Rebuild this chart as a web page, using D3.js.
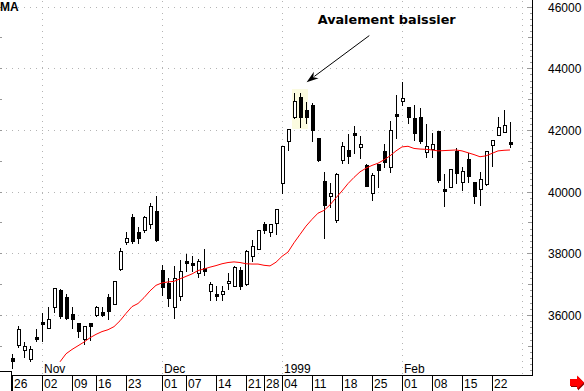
<!DOCTYPE html>
<html>
<head>
<meta charset="utf-8">
<script src="https://cdn.jsdelivr.net/npm/d3@7"></script>
<style>
html, body { margin: 0; padding: 0; background: #fff; overflow: hidden; }
svg { display: block; }
text { font-family: "Liberation Sans", Arial, sans-serif; font-size: 12px; fill: #000; }
</style>
</head>
<body>
<svg id="chart" width="584" height="391"></svg>
<script>
// daily candles, one per trading day (index 0 = 26 Oct 1998)
const open = [34610,35020,34860,34580,35300,35770,35570,36270,36810,36590,
  36020,35730,35210,35730,36000,36080,36590,36370,37490,38350,
  39170,38700,38740,38940,39360,37460,37050,36250,36630,37750,
  37690,37350,37520,36790,36670,36690,37020,36950,37460,37010,
  37920,38150,38950,38680,38990,40290,41650,42430,43080,42650,
  42810,41730,40350,39860,39080,41010,41350,41910,41460,40870,
  39970,40900,41330,40810,42520,42950,42740,42380,42410,41280,
  41390,41950,40100,40160,41320,40300,41060,40300,40080,40240,
  41510,41840,41930,41620];
const high = [34740,35650,35120,35000,35540,36060,36250,36880,36830,36680,
  36270,35750,35650,35740,36290,36270,36680,37100,38160,38700,
  39280,38850,39210,39620,39870,37620,37190,37590,37790,37980,
  37920,37820,38140,37080,36940,36940,37350,37590,37550,38090,
  38430,38770,39030,38960,39440,41490,42030,43210,43190,42890,
  42870,41740,40620,40270,40600,41620,41860,42130,41810,40880,
  40600,40910,41550,42290,43140,43570,42750,42810,42700,42200,
  41890,41970,40570,40740,41430,40810,41250,40310,40620,41330,
  41680,42430,42650,42260];
const low = [34270,34970,34650,34520,35170,35170,35570,36080,35900,35880,
  35590,35270,35060,35190,35970,35950,35860,36340,37460,38290,
  38340,38330,38690,38810,38410,36650,36290,35890,36490,37440,
  37430,37240,37300,36470,36470,36470,36830,36940,36830,36970,
  37760,38140,38650,38570,38610,39950,41350,42380,42110,42220,
  41650,41000,38490,39490,39030,40940,40920,41250,41080,40170,
  39730,40160,40810,40620,41730,42810,42240,41680,41590,41120,
  41120,40320,39540,40150,40290,40060,40320,39620,39570,40220,
  40840,41830,41920,41460];
const close = [34510,35540,35000,34890,35230,35710,35860,36870,35950,35910,
  35880,35470,35650,35650,36270,36010,36140,37090,38080,38490,
  38410,38510,39170,39530,38430,36900,36540,37190,37430,37720,
  37660,37750,37440,37000,36640,36780,37100,37560,36950,38080,
  38240,38760,38740,38950,39430,41480,42020,42940,42430,42430,
  42000,41010,39570,39970,40560,41490,41170,41860,41550,40180,
  40540,40700,40970,42000,42480,43030,42430,41890,41650,41480,
  41550,40380,40050,40730,40600,40670,40520,39860,40400,41320,
  41670,42090,42160,41550];

// moving average (red), starts at candle 8
const maStart = 8;
const ma = [34480,34740,34880,35000,35120,35260,35370,35460,35520,35620,
  35810,36050,36270,36370,36560,36780,36960,37040,37070,37090,
  37170,37250,37330,37440,37490,37550,37600,37660,37700,37720,
  37700,37660,37650,37650,37610,37590,37710,37900,38040,38340,
  38610,38880,39100,39300,39390,39570,39800,40020,40260,40460,
  40640,40760,40850,40920,41030,41160,41320,41450,41470,41400,
  41380,41370,41350,41320,41330,41340,41350,41320,41260,41200,
  41130,41160,41240,41320,41340,41350];

const weekIdx = [0,5,10,14,19,25,29,34,39,42,45,50,55,60,65,70,75,80];
const weekLabels = ["26","02","09","16","23","01","07","14","21","28","04","11","18","25","01","08","15","22"];
const monthIdx = [5,25,45,65,85];
const monthLabels = ["Nov","Dec","1999","Feb",""];
const priceTicks = [36000,38000,40000,42000,44000,46000];

const noteText = "Avalement baissier";
const noteAt = [50.95, 45440];          // [day index, price] of text start
const arrowFrom = [59.55, 45060];
const arrowTo = [49.1, 43550];
const boxDays = [46.7, 49.4];            // highlighted pattern
const boxPrices = [42020, 43320];

const plotRight = 532, plotBottom = 375;

const svg = d3.select("#chart");

const x = d3.scaleLinear().domain([0, 83]).range([12, 510]);
const y = d3.scaleLinear().domain([34000, 46000]).range([376.6, 6.6]);
const px = i => Math.round(x(i));
const py = v => Math.round(y(v));

const crisp = svg.append("g").attr("shape-rendering", "crispEdges");

// highlight box behind the engulfing pattern
crisp.append("rect")
  .attr("x", x(boxDays[0]))
  .attr("y", y(boxPrices[1]))
  .attr("width", x(boxDays[1]) - x(boxDays[0]))
  .attr("height", y(boxPrices[0]) - y(boxPrices[1]))
  .attr("fill", "#fbfbe0");

// dotted grid
crisp.selectAll(".hgrid")
  .data(priceTicks)
  .enter()
  .append("line")
  .attr("class", "hgrid")
  .attr("x1", 0).attr("x2", plotRight)
  .attr("y1", d => py(d) + 0.5).attr("y2", d => py(d) + 0.5)
  .attr("stroke", "#b4b4b4")
  .attr("stroke-dasharray", "1,5");

crisp.selectAll(".vgrid")
  .data(monthIdx)
  .enter()
  .append("line")
  .attr("class", "vgrid")
  .attr("x1", d => px(d) + 0.5).attr("x2", d => px(d) + 0.5)
  .attr("y1", 1).attr("y2", plotBottom)
  .attr("stroke", "#b4b4b4")
  .attr("stroke-dasharray", "1,5");

// small ticks on both price axes
const minor = d3.range(34200, 46001, 200);
crisp.selectAll(".rtick")
  .data(minor)
  .enter()
  .append("line")
  .attr("x1", d => plotRight - (d % 2000 === 0 ? 5 : d % 1000 === 0 ? 4 : 2))
  .attr("x2", plotRight)
  .attr("y1", d => py(d) + 0.5).attr("y2", d => py(d) + 0.5)
  .attr("stroke", "#999");

crisp.selectAll(".ltick")
  .data(minor.filter(d => d % 1000 === 0))
  .enter()
  .append("line")
  .attr("x1", 0).attr("x2", 2)
  .attr("y1", d => py(d) + 0.5).attr("y2", d => py(d) + 0.5)
  .attr("stroke", "#999");

// moving average
const maLine = d3.line()
  .x((d, k) => x(k + maStart))
  .y(d => y(d));

svg.append("path")
  .datum(ma)
  .attr("d", maLine)
  .attr("fill", "none")
  .attr("stroke", "#ff0000")
  .attr("stroke-width", 1);

// candles
const idx = d3.range(open.length);

crisp.selectAll(".wick")
  .data(idx)
  .enter()
  .append("rect")
  .attr("class", "wick")
  .attr("x", i => px(i))
  .attr("y", i => py(high[i]))
  .attr("width", 1)
  .attr("height", i => py(low[i]) - py(high[i]) + 1)
  .attr("fill", "#000");

function bodyTop(i) { return py(Math.max(open[i], close[i])); }
function bodyBot(i) { return Math.max(py(Math.min(open[i], close[i])), bodyTop(i) + 2); }

crisp.selectAll(".body")
  .data(idx)
  .enter()
  .append("rect")
  .attr("class", "body")
  .attr("x", i => px(i) - 1)
  .attr("y", i => bodyTop(i))
  .attr("width", 4)
  .attr("height", i => bodyBot(i) - bodyTop(i) + 1)
  .attr("fill", "#000");

crisp.selectAll(".hollow")
  .data(idx.filter(i => close[i] > open[i]))
  .enter()
  .append("rect")
  .attr("class", "hollow")
  .attr("x", i => px(i))
  .attr("y", i => bodyTop(i) + 1)
  .attr("width", 2)
  .attr("height", i => Math.max(0, bodyBot(i) - bodyTop(i) - 1))
  .attr("fill", "#fff");

// axes frame
crisp.append("line")
  .attr("x1", plotRight + 0.5).attr("x2", plotRight + 0.5)
  .attr("y1", 0).attr("y2", plotBottom + 1)
  .attr("stroke", "#000");
crisp.append("line")
  .attr("x1", 11).attr("x2", plotRight + 1)
  .attr("y1", plotBottom + 0.5).attr("y2", plotBottom + 0.5)
  .attr("stroke", "#000");
crisp.append("path")
  .attr("d", "M0,371.5H11.5V391")
  .attr("fill", "none")
  .attr("stroke", "#000");

// price labels
svg.selectAll(".plabel")
  .data(priceTicks)
  .enter()
  .append("text")
  .attr("x", 548)
  .attr("y", d => py(d) + 4.5)
  .text(d => d);

// week ticks and labels
crisp.selectAll(".wtick")
  .data(weekIdx)
  .enter()
  .append("line")
  .attr("x1", d => px(d) + 0.5).attr("x2", d => px(d) + 0.5)
  .attr("y1", plotBottom + 1).attr("y2", 391)
  .attr("stroke", "#000");

svg.selectAll(".wlabel")
  .data(weekIdx)
  .enter()
  .append("text")
  .attr("x", d => px(d) + 2)
  .attr("y", 388)
  .text((d, k) => weekLabels[k]);

svg.selectAll(".mlabel")
  .data(monthIdx)
  .enter()
  .append("text")
  .attr("x", d => px(d) + 2)
  .attr("y", 373)
  .text((d, k) => monthLabels[k]);

// title fragment
svg.append("text")
  .attr("x", 0).attr("y", 11)
  .style("font-weight", "bold")
  .style("font-size", "12px")
  .text("MA");

// annotation
svg.append("text")
  .attr("x", x(noteAt[0]))
  .attr("y", y(noteAt[1]))
  .style("font-family", "'DejaVu Sans', Verdana, sans-serif")
  .style("font-weight", "bold")
  .style("font-size", "12.8px")
  .text(noteText);

const ax0 = x(arrowFrom[0]), ay0 = y(arrowFrom[1]);
const ax1 = x(arrowTo[0]), ay1 = y(arrowTo[1]);
const len = Math.hypot(ax1 - ax0, ay1 - ay0);
const ux = (ax1 - ax0) / len, uy = (ay1 - ay0) / len;
const headL = 12, headW = 4;
svg.append("line")
  .attr("x1", ax0).attr("y1", ay0)
  .attr("x2", ax1 - ux * headL * 0.8).attr("y2", ay1 - uy * headL * 0.8)
  .attr("stroke", "#000")
  .attr("stroke-width", 1);
svg.append("path")
  .attr("d", `M${ax1},${ay1}L${ax1 - ux * headL - uy * headW},${ay1 - uy * headL + ux * headW}` +
    `L${ax1 - ux * headL * 0.7},${ay1 - uy * headL * 0.7}` +
    `L${ax1 - ux * headL + uy * headW},${ay1 - uy * headL - ux * headW}Z`)
  .attr("fill", "#000");

// red "next" arrow, bottom right
const redArrow = "M570,379H577V375.5L584,382.5L577,389.5V386H570Z";
svg.append("path").attr("d", redArrow).attr("fill", "#8b0000").attr("transform", "translate(1,1)");
svg.append("path").attr("d", redArrow).attr("fill", "#ff0000");
</script>
</body>
</html>
